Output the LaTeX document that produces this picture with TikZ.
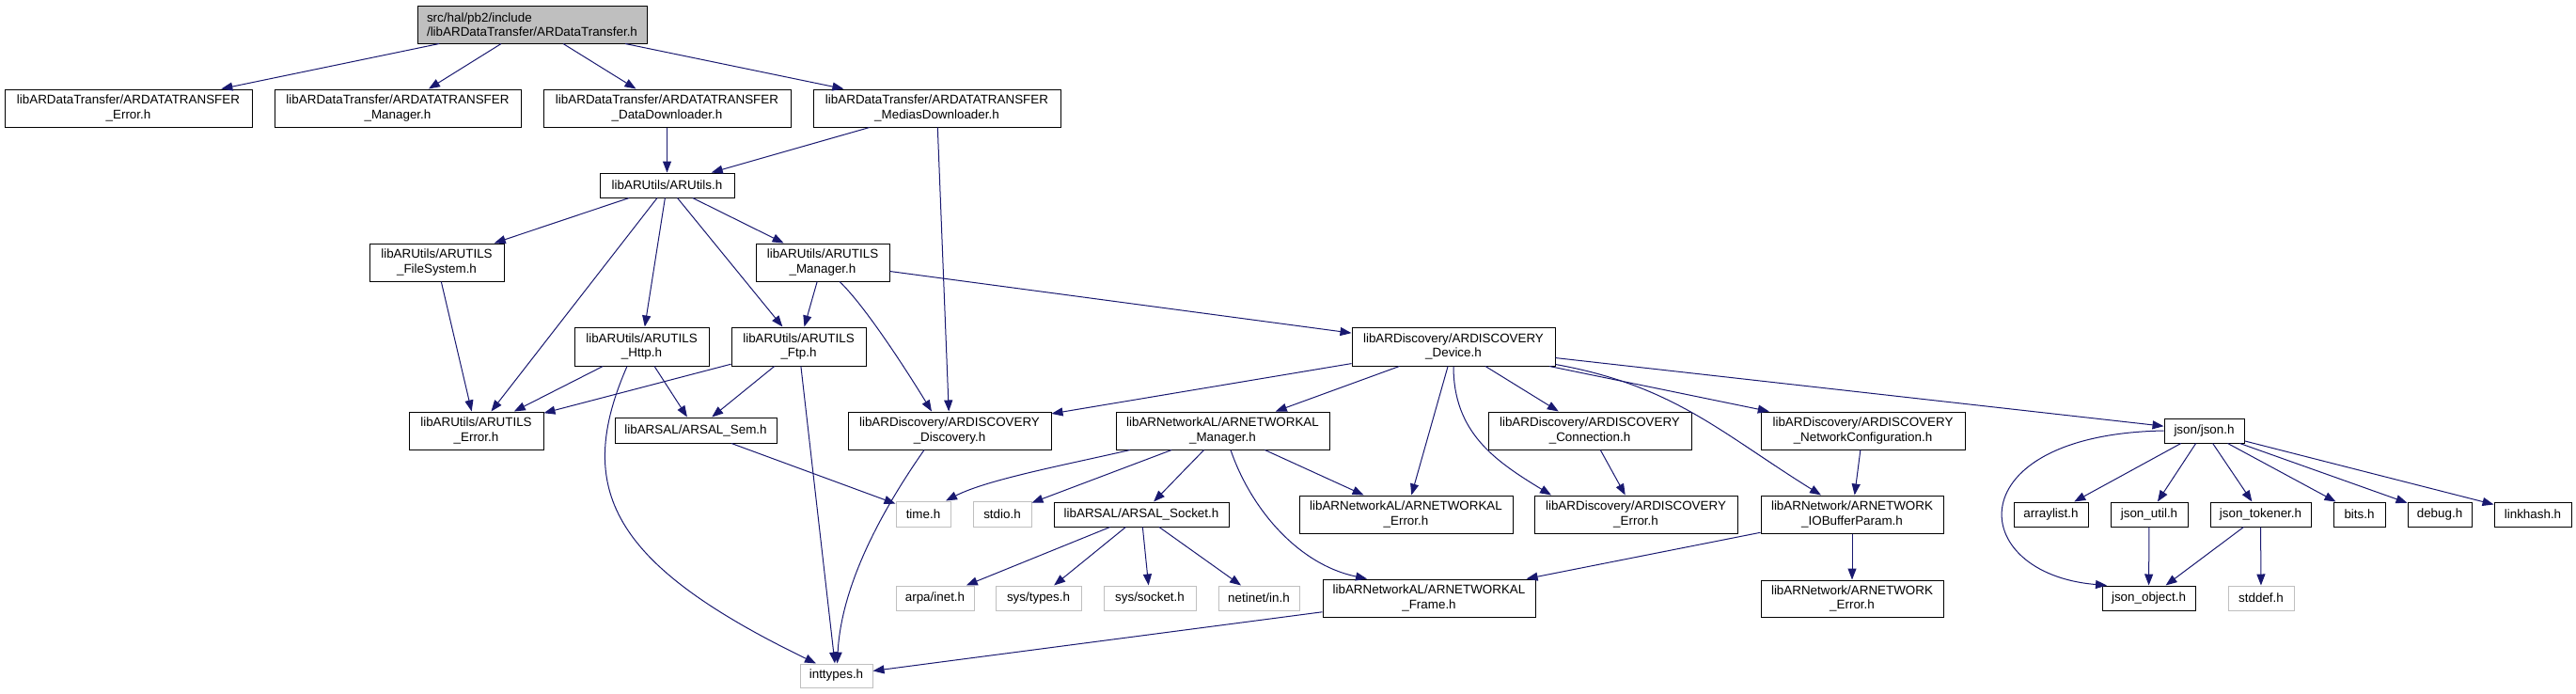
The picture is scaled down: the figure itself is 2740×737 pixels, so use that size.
\documentclass[tikz,border=0pt]{standalone}
\usepackage{fontspec}
\setmainfont{Liberation Sans}
\usetikzlibrary{arrows.meta}
\definecolor{edgec}{RGB}{25,25,112}
\definecolor{topgray}{RGB}{191,191,191}
\definecolor{sysgray}{RGB}{191,191,191}
\newcommand\dfont{\fontsize{13.4}{15.5}\selectfont}
\tikzset{
  box/.style={draw=black, line width=1pt, rectangle, inner sep=0pt, align=center, font=\dfont, text=black},
  sysbox/.style={box, draw=sysgray},
  edge/.style={draw=edgec, line width=1pt, -{Triangle[length=12pt,width=9pt]}},
}
\begin{document}
\begin{tikzpicture}[x=1pt,y=-1pt]
\useasboundingbox (0,0) rectangle (2740,737);
% row 0
\node[box, fill=topgray, align=left, minimum width=244pt, minimum height=40pt] (top) at (566,26) {src/hal/pb2/include\\/libARDataTransfer/ARDataTransfer.h};
% row 1
\node[box, minimum width=263pt, minimum height=40pt] (dtErr) at (136.5,115) {libARDataTransfer/ARDATATRANSFER\\\_Error.h};
\node[box, minimum width=262pt, minimum height=40pt] (dtMgr) at (423,115) {libARDataTransfer/ARDATATRANSFER\\\_Manager.h};
\node[box, minimum width=263pt, minimum height=40pt] (dtData) at (709.5,115) {libARDataTransfer/ARDATATRANSFER\\\_DataDownloader.h};
\node[box, minimum width=263pt, minimum height=40pt] (dtMedia) at (996.5,115) {libARDataTransfer/ARDATATRANSFER\\\_MediasDownloader.h};
% row 2
\node[box, minimum width=143pt, minimum height=26pt] (utils) at (709.5,197) {libARUtils/ARUtils.h};
% row 3
\node[box, minimum width=143pt, minimum height=40pt] (fs) at (464.5,279) {libARUtils/ARUTILS\\\_FileSystem.h};
\node[box, minimum width=142pt, minimum height=40pt] (uMgr) at (875,279) {libARUtils/ARUTILS\\\_Manager.h};
% row 4
\node[box, minimum width=143pt, minimum height=41pt] (http) at (682.5,368.5) {libARUtils/ARUTILS\\\_Http.h};
\node[box, minimum width=143pt, minimum height=41pt] (ftp) at (849.5,368.5) {libARUtils/ARUTILS\\\_Ftp.h};
\node[box, minimum width=216pt, minimum height=41pt] (dev) at (1546,368.5) {libARDiscovery/ARDISCOVERY\\\_Device.h};
% row 5
\node[box, minimum width=143pt, minimum height=40pt] (uErr) at (506.5,458) {libARUtils/ARUTILS\\\_Error.h};
\node[box, minimum width=172pt, minimum height=27pt] (sem) at (740,457.5) {libARSAL/ARSAL\_Sem.h};
\node[box, minimum width=216pt, minimum height=40pt] (disc) at (1010,458) {libARDiscovery/ARDISCOVERY\\\_Discovery.h};
\node[box, minimum width=227pt, minimum height=40pt] (nalMgr) at (1300.5,458) {libARNetworkAL/ARNETWORKAL\\\_Manager.h};
\node[box, minimum width=216pt, minimum height=40pt] (conn) at (1691,458) {libARDiscovery/ARDISCOVERY\\\_Connection.h};
\node[box, minimum width=217pt, minimum height=40pt] (netConf) at (1981.5,458) {libARDiscovery/ARDISCOVERY\\\_NetworkConfiguration.h};
\node[box, minimum width=85pt, minimum height=26pt] (json) at (2344.5,458) {json/json.h};
% row 6
\node[sysbox, minimum width=58pt, minimum height=27pt] (time) at (982,546.5) {time.h};
\node[sysbox, minimum width=62pt, minimum height=27pt] (stdio) at (1066,546.5) {stdio.h};
\node[box, minimum width=186pt, minimum height=26pt] (sock) at (1214,547) {libARSAL/ARSAL\_Socket.h};
\node[box, minimum width=227pt, minimum height=40pt] (nalErr) at (1495.5,547) {libARNetworkAL/ARNETWORKAL\\\_Error.h};
\node[box, minimum width=216pt, minimum height=40pt] (discErr) at (1740,547) {libARDiscovery/ARDISCOVERY\\\_Error.h};
\node[box, minimum width=194pt, minimum height=40pt] (iobuf) at (1970,547) {libARNetwork/ARNETWORK\\\_IOBufferParam.h};
\node[box, minimum width=79pt, minimum height=26pt] (arraylist) at (2181.5,547) {arraylist.h};
\node[box, minimum width=82pt, minimum height=26pt] (jutil) at (2286,547) {json\_util.h};
\node[box, minimum width=107pt, minimum height=26pt] (jtok) at (2404.5,547) {json\_tokener.h};
\node[box, minimum width=55pt, minimum height=26pt] (bits) at (2509.5,547) {bits.h};
\node[box, minimum width=68pt, minimum height=26pt] (debug) at (2595,547) {debug.h};
\node[box, minimum width=82pt, minimum height=26pt] (linkhash) at (2694,547) {linkhash.h};
% row 7
\node[sysbox, minimum width=83pt, minimum height=26pt] (arpa) at (994.5,636) {arpa/inet.h};
\node[sysbox, minimum width=91pt, minimum height=26pt] (systypes) at (1104.5,636) {sys/types.h};
\node[sysbox, minimum width=98pt, minimum height=26pt] (syssock) at (1223,636) {sys/socket.h};
\node[sysbox, minimum width=86pt, minimum height=26pt] (netinet) at (1339,636) {netinet/in.h};
\node[box, minimum width=226pt, minimum height=40pt] (nalFrame) at (1520,636) {libARNetworkAL/ARNETWORKAL\\\_Frame.h};
\node[box, minimum width=194pt, minimum height=39pt] (netErr) at (1970,636.5) {libARNetwork/ARNETWORK\\\_Error.h};
\node[box, minimum width=99pt, minimum height=26pt] (jobj) at (2285.5,636) {json\_object.h};
\node[sysbox, minimum width=70pt, minimum height=26pt] (stddef) at (2405,636) {stddef.h};
% row 8
\node[sysbox, minimum width=77pt, minimum height=25pt] (inttypes) at (889.5,718.5) {inttypes.h};

% edges
\draw[edge] (top) -- (dtErr);
\draw[edge] (top) -- (dtMgr);
\draw[edge] (top) -- (dtData);
\draw[edge] (top) -- (dtMedia);
\draw[edge] (dtData) -- (utils);
\draw[edge] (dtMedia) -- (utils);
\draw[edge] (dtMedia) -- (disc);
\draw[edge] (utils) -- (fs);
\draw[edge] (utils) -- (uErr);
\draw[edge] (utils) -- (http);
\draw[edge] (utils) -- (ftp);
\draw[edge] (utils) -- (uMgr);
\draw[edge] (fs) -- (uErr);
\draw[edge] (uMgr) -- (ftp);
\draw[edge] ([xshift=18pt]uMgr.south) .. controls (920,325) and (965,395) .. ([xshift=-19pt]disc.north);
\draw[edge] (uMgr) -- (dev);
\draw[edge] (http) -- (uErr);
\draw[edge] (http) -- (sem);
\draw[edge] ([xshift=-15.5pt]http.south) .. controls (610,520) and (650,600) .. ([xshift=-21.5pt]inttypes.north);
\draw[edge] (ftp) -- (uErr);
\draw[edge] (ftp) -- (sem);
\draw[edge] (ftp) -- (inttypes);
\draw[edge] (sem) -- (time);
\draw[edge] ([xshift=-27pt]disc.south) .. controls (940,540) and (895,620) .. ([xshift=1pt]inttypes.north);
\draw[edge] (dev) -- (disc);
\draw[edge] (dev) -- (nalMgr);
\draw[edge] (dev) -- (nalErr);
\draw[edge] (dev.south) .. controls (1546,460) and (1590,490) .. ([xshift=-90pt]discErr.north);
\draw[edge] (dev) -- (conn);
\draw[edge] (dev) -- (netConf);
\draw[edge] ([yshift=2pt]dev.south east) .. controls (1780,410) and (1830,460) .. ([xshift=-33pt]iobuf.north);
\draw[edge] (dev) -- (json);
\draw[edge] ([xshift=-98.5pt]nalMgr.south) .. controls (1130,495) and (1050,510) .. ([xshift=24pt]time.north);
\draw[edge] (nalMgr) -- (stdio);
\draw[edge] (nalMgr) -- (sock);
\draw[edge] (nalMgr) -- (nalErr);
\draw[edge] ([xshift=8.5pt]nalMgr.south) .. controls (1330,540) and (1380,600) .. ([xshift=-66pt]nalFrame.north);
\draw[edge] (conn) -- (discErr);
\draw[edge] (sock) -- (arpa);
\draw[edge] (sock) -- (systypes);
\draw[edge] (sock) -- (syssock);
\draw[edge] (sock) -- (netinet);
\draw[edge] (netConf) -- (iobuf);
\draw[edge] (iobuf) -- (netErr);
\draw[edge] (iobuf) -- (nalFrame);
\draw[edge] (nalFrame) -- (inttypes);
\draw[edge] (json.west) .. controls (2080,462) and (2090,610) .. ([xshift=-44.5pt]jobj.north);
\draw[edge] (json) -- (arraylist);
\draw[edge] (json) -- (jutil);
\draw[edge] (json) -- (jtok);
\draw[edge] (json) -- (bits);
\draw[edge] (json) -- (debug);
\draw[edge] (json) -- (linkhash);
\draw[edge] (jutil) -- (jobj);
\draw[edge] (jtok) -- (jobj);
\draw[edge] (jtok) -- (stddef);
\end{tikzpicture}
\end{document}
